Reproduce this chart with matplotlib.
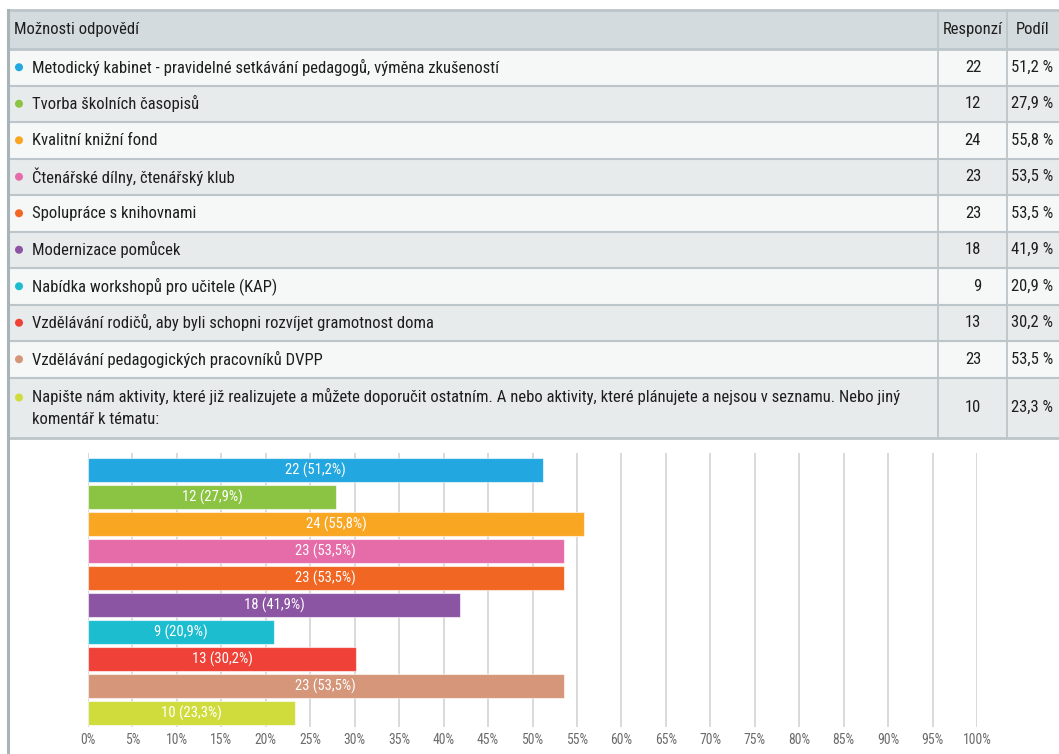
import matplotlib
matplotlib.use("Agg")
import matplotlib.pyplot as plt
from matplotlib import font_manager
from matplotlib.patches import Rectangle, Circle

# ---------------- data ----------------
categories = [
    "Metodický kabinet - pravidelné setkávání pedagogů, výměna zkušeností",
    "Tvorba školních časopisů",
    "Kvalitní knižní fond",
    "Čtenářské dílny, čtenářský klub",
    "Spolupráce s knihovnami",
    "Modernizace pomůcek",
    "Nabídka workshopů pro učitele (KAP)",
    "Vzdělávání rodičů, aby byli schopni rozvíjet gramotnost doma",
    "Vzdělávání pedagogických pracovníků DVPP",
    "Napište nám aktivity, které již realizujete a můžete doporučit ostatním. A nebo aktivity, které plánujete a nejsou v seznamu. Nebo jiný\nkomentář k tématu:",
]
responses = [22, 12, 24, 23, 23, 18, 9, 13, 23, 10]
shares = [51.2, 27.9, 55.8, 53.5, 53.5, 41.9, 20.9, 30.2, 53.5, 23.3]
colors = ["#22a7e0", "#8bc443", "#f9a623", "#e56ca9", "#f26624", "#8c55a3",
          "#1dbdd0", "#ef4137", "#d5967a", "#cfdc3c"]
header = ["Možnosti odpovědí", "Responzí", "Podíl"]
xticks = list(range(0, 101, 5))

# ---------------- fonts ----------------
avail = {f.name for f in font_manager.fontManager.ttflist}
fam = None
for cand in ["Roboto Condensed", "Liberation Sans Narrow", "Open Sans Condensed", "Lato", "Liberation Sans"]:
    if cand in avail:
        fam = cand
        break
plt.rcParams['font.family'] = [fam, 'DejaVu Sans']

W, H = 1059, 754
fig = plt.figure(figsize=(W / 100, H / 100), dpi=100)
fig.patch.set_facecolor("white")

# ---------------- table (pixel overlay) ----------------
tab = fig.add_axes([0, 0, 1, 1])
tab.set_xlim(0, W)
tab.set_ylim(H, 0)
tab.axis("off")

left, right = 8, 1062
col1, col2 = 938, 1007
row_tops = [10, 49, 85.5, 122, 158.5, 195, 231.5, 268, 304.5, 341, 377.5, 437.5]
text_col = "#1e1e1e"
line_col = "#bcc5c9"

# header
tab.add_patch(Rectangle((left, row_tops[0]), right - left, row_tops[1] - row_tops[0],
                        facecolor="#d4dbde", edgecolor="none"))
for i in range(len(categories)):
    y0, y1 = row_tops[i + 1], row_tops[i + 2]
    bg = "#f6f7f7" if i % 2 == 0 else "#e8ebec"
    tab.add_patch(Rectangle((left, y0), right - left, y1 - y0, facecolor=bg, edgecolor="none"))

# horizontal lines
for k, y in enumerate(row_tops):
    lw = 2.0 if k in (0, 1, len(row_tops) - 1) else 1.5
    tab.plot([left, right], [y, y], color=line_col, lw=lw, solid_capstyle="butt")
# vertical lines
tab.plot([col1, col1], [row_tops[0], row_tops[-1]], color=line_col, lw=1.3)
tab.plot([col2, col2], [row_tops[0], row_tops[-1]], color=line_col, lw=1.3)
tab.plot([left, left], [row_tops[0], H], color="#a9b4b8", lw=2.2)

fs = 12
ym = (row_tops[0] + row_tops[1]) / 2
tab.text(14, ym, header[0], fontsize=fs, color=text_col, va="center", ha="left")
tab.text((col1 + col2) / 2, ym, header[1], fontsize=fs, color=text_col, va="center", ha="center")
tab.text(1033, ym, header[2], fontsize=fs, color=text_col, va="center", ha="center")

for i, cat in enumerate(categories):
    y0, y1 = row_tops[i + 1], row_tops[i + 2]
    yc = (y0 + y1) / 2
    tab.add_patch(Circle((19, yc - (10 if "\n" in cat else 0)), 4.0, facecolor=colors[i], edgecolor="none"))
    tab.text(32, yc, cat, fontsize=fs, color=text_col, va="center", ha="left", linespacing=1.6)
    tab.text(981, yc, str(responses[i]), fontsize=fs, color=text_col, va="center", ha="right")
    tab.text(1011, yc, f"{shares[i]:.1f} %".replace(".", ","), fontsize=fs, color=text_col,
             va="center", ha="left")

# ---------------- bar chart ----------------
ax_l, ax_r = 88, 977
ax_top, ax_bot = 453, 727
ax = fig.add_axes([ax_l / W, (H - ax_bot) / H, (ax_r - ax_l) / W, (ax_bot - ax_top) / H])
ypos = list(range(len(categories)))
ax.barh(ypos, shares, height=0.89, color=colors, edgecolor=(1, 1, 1, 0.6), linewidth=0.8, zorder=3)
ax.set_xlim(0, 100)
ax.set_ylim((ax_bot - 470) / 27, (ax_top - 470) / 27)
ax.set_xticks(xticks)
ax.set_xticklabels([f"{t}%" for t in xticks], fontsize=9.8, color="#6b6b6b")
ax.tick_params(axis="x", length=0, pad=4)
ax.set_yticks([])
ax.grid(axis="x", color="#cfcfcf", lw=1.1, zorder=0)
for s in ax.spines.values():
    s.set_visible(False)
for i in ypos:
    lab = f"{responses[i]} ({shares[i]:.1f}%)".replace(".", ",")
    ax.text(shares[i] / 2, i, lab, color="white", fontsize=10.5, fontweight="normal",
            ha="center", va="center", zorder=4)

fig.savefig("out.png", dpi=100, facecolor="white")
